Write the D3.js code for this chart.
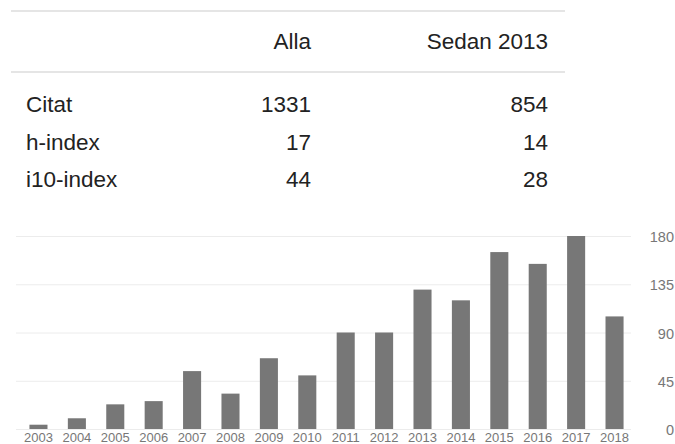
<!DOCTYPE html>
<html>
<head>
<meta charset="utf-8">
<script src="https://cdn.jsdelivr.net/npm/d3@7"></script>
<style>
  body { margin: 0; background: #fff; }
  svg { display: block; font-family: "Liberation Sans", Arial, Helvetica, sans-serif; }
  .axis .domain { display: none; }
</style>
</head>
<body>
<div id="container"></div>
<script>
/* DATA */
const columns = ["Alla", "Sedan 2013"];
const rowLabels = ["Citat", "h-index", "i10-index"];
const allValues = [1331, 17, 44];
const sinceValues = [854, 14, 28];

const years = ["2003", "2004", "2005", "2006", "2007", "2008", "2009", "2010",
  "2011", "2012", "2013", "2014", "2015", "2016", "2017", "2018"];
const citations = [4, 10, 23, 26, 54, 33, 66, 50, 90, 90, 130, 120, 165, 154, 180, 105];
const yTicks = [0, 45, 90, 135, 180];

/* CONSTANTS */
const width = 675, height = 444;

const svg = d3.select("#container")
  .append("svg")
  .attr("width", width)
  .attr("height", height);

// TABLE
const table = svg.append("g").attr("class", "stats");
const colX = [311, 548];
const lineYs = [11, 72];

table.selectAll("line.rule")
  .data(lineYs)
  .join("line")
  .attr("class", "rule")
  .attr("x1", 11).attr("x2", 565)
  .attr("y1", d => d).attr("y2", d => d)
  .attr("stroke", "#e5e5e5")
  .attr("stroke-width", 2);

table.selectAll("text.head")
  .data(columns)
  .join("text")
  .attr("class", "head")
  .attr("x", (d, i) => colX[i])
  .attr("y", 49)
  .attr("text-anchor", "end")
  .attr("font-size", 22.5)
  .attr("fill", "#222")
  .text(d => d);

const rowY = d3.scalePoint().domain(rowLabels).range([112, 187]);

table.selectAll("text.rowlabel")
  .data(rowLabels)
  .join("text")
  .attr("class", "rowlabel")
  .attr("x", 26)
  .attr("y", d => rowY(d))
  .attr("font-size", 22.5)
  .attr("fill", "#222")
  .text(d => d);

[allValues, sinceValues].forEach((vals, c) => {
  table.selectAll("text.val" + c)
    .data(vals)
    .join("text")
    .attr("class", "val" + c)
    .attr("x", colX[c])
    .attr("y", (d, i) => rowY(rowLabels[i]))
    .attr("text-anchor", "end")
    .attr("font-size", 22.5)
    .attr("fill", "#222")
    .text(d => d);
});

// SCALES
const xScale = d3.scaleBand()
  .domain(years)
  .range([16, 637])
  .paddingInner(0.53)
  .paddingOuter(0.35);

const yScale = d3.scaleLinear()
  .domain([0, 180])
  .range([429, 236]);

// GRIDLINES
svg.append("g")
  .attr("class", "axis grid")
  .attr("transform", "translate(16,0)")
  .call(d3.axisLeft(yScale).tickValues(yTicks).tickSize(-615).tickFormat(""))
  .call(g => g.selectAll(".tick line").attr("stroke", "#ececec").attr("stroke-width", 1));

// BARS
svg.append("g")
  .selectAll("rect")
  .data(citations)
  .join("rect")
  .attr("x", (d, i) => xScale(years[i]))
  .attr("y", d => yScale(d))
  .attr("width", xScale.bandwidth())
  .attr("height", d => yScale(0) - yScale(d))
  .attr("fill", "#777777");

// AXES
svg.append("g")
  .attr("class", "axis x")
  .attr("transform", `translate(0,${yScale(0)})`)
  .call(d3.axisBottom(xScale).tickSize(0).tickPadding(4))
  .call(g => g.selectAll("text").attr("font-size", 13).attr("fill", "#777")
    .attr("font-family", "Liberation Sans, Arial, sans-serif"));

svg.append("g")
  .attr("class", "axis y")
  .attr("transform", "translate(674,0)")
  .call(d3.axisRight(yScale).tickValues(yTicks).tickSize(0).tickPadding(0))
  .call(g => g.selectAll("text").attr("font-size", 14.5).attr("fill", "#777")
    .attr("text-anchor", "end").attr("dy", "0.38em")
    .attr("font-family", "Liberation Sans, Arial, sans-serif"));
</script>
</body>
</html>
